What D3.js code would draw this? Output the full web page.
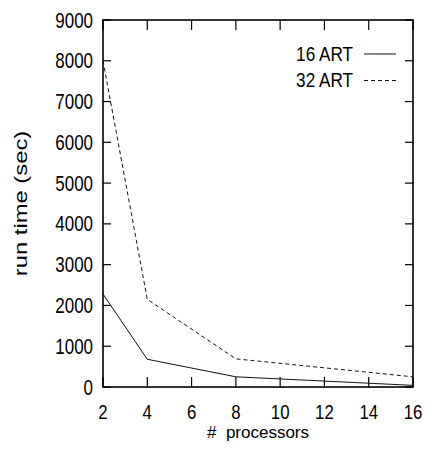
<!DOCTYPE html>
<html><head><meta charset="utf-8">
<script src="https://cdn.jsdelivr.net/npm/d3@7"></script>
<style>body{margin:0;background:#fff}text{font-family:"Liberation Sans",Arial,sans-serif;fill:#000}</style>
</head><body>
<script>
const procs = [2, 4, 8, 16];
const art16 = [2280, 680, 250, 40];
const art32 = [8000, 2150, 690, 250];
const seriesNames = ["16 ART", "32 ART"];
const xTicks = [2, 4, 6, 8, 10, 12, 14, 16];
const yTicks = [0, 1000, 2000, 3000, 4000, 5000, 6000, 7000, 8000, 9000];

const W = 425, H = 449;
const L = 103, R = 413, T = 20, B = 387;
const svg = d3.select("body").append("svg").attr("width", W).attr("height", H);
const x = d3.scaleLinear().domain([2, 16]).range([L, R]);
const y = d3.scaleLinear().domain([0, 9000]).range([B, T]);

function txt(xp, yp, s, anchor, fs, sx, rot) {
  const g = svg.append("g").attr("transform", `translate(${xp},${yp})` + (rot ? ` rotate(${rot})` : "") + ` scale(${sx},1)`);
  g.append("text").attr("text-anchor", anchor).style("font-size", fs + "px")
    .attr("xml:space", "preserve").style("white-space", "pre").text(s);
}

// ticks
const tk = svg.append("g").attr("stroke", "#000").attr("stroke-width", 1.2);
xTicks.forEach(v => {
  tk.append("line").attr("x1", x(v)).attr("x2", x(v)).attr("y1", B).attr("y2", B - 10);
  tk.append("line").attr("x1", x(v)).attr("x2", x(v)).attr("y1", T).attr("y2", T + 10);
  txt(x(v), B + 31.5, String(v), "middle", 21, 0.8);
});
yTicks.forEach(v => {
  tk.append("line").attr("x1", L).attr("x2", L + 8).attr("y1", y(v)).attr("y2", y(v));
  tk.append("line").attr("x1", R).attr("x2", R - 8).attr("y1", y(v)).attr("y2", y(v));
  txt(L - 10, y(v) + 7.5, String(v), "end", 22, 0.77);
});

// frame
svg.append("rect").attr("x", L).attr("y", T).attr("width", R - L).attr("height", B - T)
  .attr("fill", "none").attr("stroke", "#000").attr("stroke-width", 1.6);

const line = d3.line().x(d => x(d[0])).y(d => y(d[1]));
svg.append("path").datum(procs.map((p, i) => [p, art16[i]])).attr("d", line)
  .attr("fill", "none").attr("stroke", "#111").attr("stroke-width", 1);
svg.append("path").datum(procs.map((p, i) => [p, art32[i]])).attr("d", line)
  .attr("fill", "none").attr("stroke", "#111").attr("stroke-width", 1).attr("stroke-dasharray", "4,3");

// legend
txt(353, 61, seriesNames[0], "end", 19.5, 0.88);
txt(353, 86.5, seriesNames[1], "end", 19.5, 0.88);
svg.append("line").attr("x1", 364).attr("x2", 396).attr("y1", 54).attr("y2", 54).attr("stroke", "#111").attr("stroke-width", 1);
svg.append("line").attr("x1", 364).attr("x2", 396).attr("y1", 80.5).attr("y2", 80.5).attr("stroke", "#111").attr("stroke-width", 1).attr("stroke-dasharray", "4,3");

// axis titles
txt((L + R) / 2, 437.5, "#  processors", "middle", 17, 1.0);
txt(27, (T + B) / 2, "run time (sec)", "middle", 17.5, 1.36, -90);
</script>
</body></html>
